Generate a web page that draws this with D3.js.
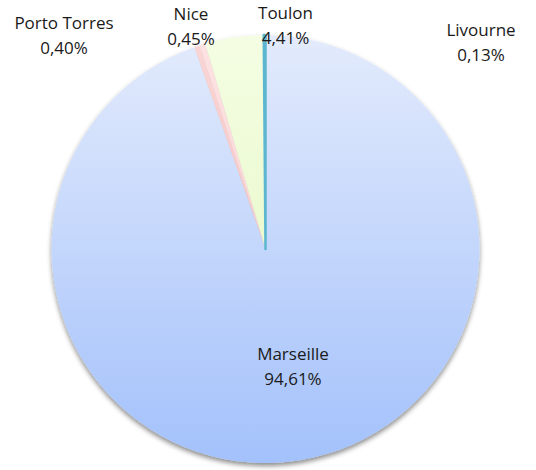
<!DOCTYPE html>
<html>
<head>
<meta charset="utf-8">
<script src="https://cdn.jsdelivr.net/npm/d3@7"></script>
<style>
  html, body { margin: 0; padding: 0; background: #fff; }
  svg { display: block; }
  text { font-family: "Open Sans", "Liberation Sans", sans-serif; font-size: 17px; fill: #1a1a1a; }
</style>
</head>
<body>
<svg id="chart"></svg>
<script>
// data, in the order the slices are drawn (clockwise from 12 o'clock)
const ports = ['Marseille', 'Porto Torres', 'Nice', 'Toulon', 'Livourne'];
const shares = [94.61, 0.40, 0.45, 4.41, 0.13];
const shareLabels = ['94,61%', '0,40%', '0,45%', '4,41%', '0,13%'];

const width = 536, height = 470;
const cx = 265.5, cy = 249, radius = 214;

// slice fills: [top, bottom] of a vertical gradient
const fills = [
    ['#e3ebfc', '#a3c1fb'],
    ['#fad6d6', '#f3b5b5'],
    ['#fde2e2', '#f8cccc'],
    ['#f4fde3', '#e2f7bc'],
    ['#5cb6d0', '#3e9fbd']
];

// label anchor (first baseline) relative to pie centre, Excel put these by hand
const labelPos = {
    'Marseille': [27.5, 111],
    'Porto Torres': [-201.5, -220],
    'Nice': [-74.5, -229],
    'Toulon': [20, -230],
    'Livourne': [215.5, -213]
};

const svg = d3.select('#chart')
    .attr('width', width)
    .attr('height', height);

const defs = svg.append('defs');

const shadow = defs.append('filter')
    .attr('id', 'shadow')
    .attr('x', '-10%').attr('y', '-10%')
    .attr('width', '120%').attr('height', '120%');
shadow.append('feDropShadow')
    .attr('dx', 0)
    .attr('dy', 3)
    .attr('stdDeviation', 2.5)
    .attr('flood-color', '#000')
    .attr('flood-opacity', 0.45);

// gradients in the pie group's own frame
fills.forEach((f, i) => {
    const g = defs.append('linearGradient')
        .attr('id', 'grad' + i)
        .attr('gradientUnits', 'userSpaceOnUse')
        .attr('x1', 0).attr('y1', -radius)
        .attr('x2', 0).attr('y2', radius);
    g.append('stop').attr('offset', '0%').attr('stop-color', f[0]);
    g.append('stop').attr('offset', '100%').attr('stop-color', f[1]);
});

const pie = d3.pie().sort(null).value(d => d);
const arcs = pie(shares);

const arc = d3.arc().innerRadius(0).outerRadius(radius);

const pieGroup = svg.append('g')
    .attr('transform', `translate(${cx},${cy})`);

pieGroup.append('g')
    .attr('filter', 'url(#shadow)')
    .selectAll('path')
    .data(arcs)
    .enter()
    .append('path')
    .attr('d', arc)
    .attr('fill', (d, i) => `url(#grad${i})`)
    // the tiny Livourne slice shows as a thin band, so outline it in its own colour
    .attr('stroke', (d, i) => i === arcs.length - 1 ? fills[i][0] : 'none')
    .attr('stroke-width', 2.5)
    .attr('stroke-linejoin', 'round');

const labels = pieGroup.append('g')
    .selectAll('text')
    .data(arcs)
    .enter()
    .append('text')
    .attr('text-anchor', 'middle')
    .attr('transform', (d, i) => {
        const p = labelPos[ports[i]];
        return `translate(${p[0]},${p[1]})`;
    });

labels.append('tspan')
    .attr('x', 0)
    .attr('dy', 0)
    .text((d, i) => ports[i]);

labels.append('tspan')
    .attr('x', 0)
    .attr('dy', 25)
    .text((d, i) => shareLabels[i]);
</script>
</body>
</html>
